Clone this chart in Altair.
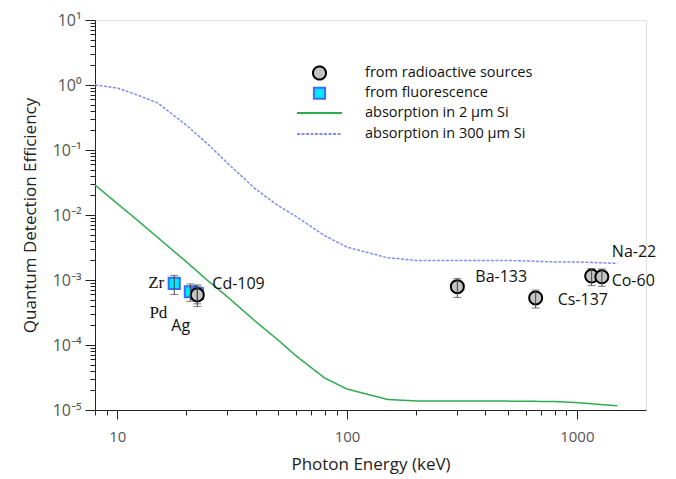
import altair as alt
import pandas as pd

# ---------------- data ----------------
series_names = ["from radioactive sources", "from fluorescence",
                "absorption in 2 µm Si", "absorption in 300 µm Si"]

green_E = [8, 10, 12, 15, 20, 25, 30, 40, 50, 60, 80, 100, 150, 200, 300, 500, 800, 1000, 1500]
green_Q = [0.029, 0.015, 0.0088, 0.0045, 0.0019, 0.00095, 0.00056, 0.00023, 0.00012, 0.000068,
           0.000031, 0.000021, 0.0000145, 0.0000138, 0.0000137, 0.0000137, 0.0000135, 0.000013, 0.0000116]

blue_E = [8, 10, 12, 15, 20, 25, 30, 40, 50, 60, 80, 100, 150, 200, 300, 500, 800, 1000, 1500]
blue_Q = [1.0, 0.9, 0.72, 0.53, 0.24, 0.12, 0.064, 0.025, 0.014, 0.0095, 0.0048, 0.0032,
          0.0022, 0.002, 0.002, 0.002, 0.0019, 0.0019, 0.0018]

fluo_names = ["Zr", "Pd", "Ag"]
fluo_E = [17.7, 20.8, 22.3]
fluo_Q = [0.00089, 0.00066, 0.00062]
fluo_lo = [0.00060, 0.00047, 0.00043]
fluo_hi = [0.00118, 0.00087, 0.00084]

src_names = ["Cd-109", "Ba-133", "Cs-137", "Co-60", "Na-22"]
src_E = [22.3, 302, 662, 1160, 1285]
src_Q = [0.00059, 0.00079, 0.00053, 0.00115, 0.00112]
src_lo = [0.00039, 0.00054, 0.00037, 0.00082, 0.00080]
src_hi = [0.00080, 0.00105, 0.00070, 0.00150, 0.00148]

# ---------------- tables ----------------
lines = pd.concat([
    pd.DataFrame({"E": green_E, "Q": green_Q, "series": series_names[2]}),
    pd.DataFrame({"E": blue_E, "Q": blue_Q, "series": series_names[3]}),
])
points = pd.concat([
    pd.DataFrame({"E": fluo_E, "Q": fluo_Q, "lo": fluo_lo, "hi": fluo_hi,
                  "name": fluo_names, "series": series_names[1]}),
    pd.DataFrame({"E": src_E, "Q": src_Q, "lo": src_lo, "hi": src_hi,
                  "name": src_names, "series": series_names[0]}),
])

FONT = "Open Sans"
major_y = [1e-5, 1e-4, 1e-3, 1e-2, 1e-1, 1, 10]
y_ticks = []
for m in major_y[:-1]:
    for k in range(1, 10):
        y_ticks.append(round(m * k, 12))
y_ticks.append(10)
x_ticks = [8, 9] + [10 * k for k in range(1, 10)] + [100 * k for k in range(1, 10)] + [1000]

is_major_y = "abs(log(datum.value)/LN10 - round(log(datum.value)/LN10)) < 0.001"
is_major_x = "(datum.value==10 || datum.value==100 || datum.value==1000)"

xscale = alt.Scale(type="log", domain=[8, 2000], nice=False)
yscale = alt.Scale(type="log", domain=[1e-5, 10], nice=False)

xaxis = alt.Axis(values=x_ticks, title="Photon Energy (keV)", grid=False,
                 labelExpr=f"{is_major_x} ? format(datum.value, 'd') : ''",
                 labelOverlap=False, labelFont=FONT, labelFontSize=15, labelColor="#555",
                 titleFont=FONT, titleFontSize=17, titleFontWeight="normal", titleColor="#222",
                 domainColor="#222", tickColor="#222",
                 tickSize={"condition": {"test": is_major_x, "value": 9}, "value": 5},
                 labelPadding=10, titlePadding=12)
yaxis = alt.Axis(values=y_ticks, title="Quantum Detection Efficiency", grid=False,
                 labelExpr=f"{is_major_y} ? '10' + ['⁻⁵','⁻⁴','⁻³','⁻²','⁻¹','⁰','¹'][round(log(datum.value)/LN10)+5] : ''",
                 labelOverlap=False, labelFont=FONT, labelFontSize=16, labelColor="#555",
                 titleFont=FONT, titleFontSize=17, titleFontWeight="normal", titleColor="#222",
                 domainColor="#222", tickColor="#222",
                 tickSize={"condition": {"test": is_major_y, "value": 10}, "value": 5},
                 labelPadding=4, titlePadding=13)

legend = alt.Legend(
    title=None, orient="none", legendX=216.5, legendY=45,
    labelFont=FONT, labelFontSize=14.5, labelColor="#111", labelLimit=400,
    symbolStrokeWidth=2, rowPadding=-1, labelOffset=37.5)

# horizontal line symbol; the move-to points give it the same height as the circle
LINE_SYM = "M0,-1M0,1M-3.45,0H3.45"
dom = series_names
stroke_enc = alt.Stroke("series:N", scale=alt.Scale(domain=dom,
                        range=["black", "#3b6cf6", "#2faa4f", "#7f8ff0"]), legend=legend)
fill_enc = alt.Fill("series:N", scale=alt.Scale(domain=dom,
                    range=["#c4c4c4", "#00e8ff", "white", "white"]), legend=legend)
shape_enc = alt.Shape("series:N", scale=alt.Scale(domain=dom,
                      range=["circle", "square", LINE_SYM, LINE_SYM]), legend=legend)
size_enc = alt.Size("series:N", scale=alt.Scale(type="ordinal", domain=dom,
                    range=[170, 125, 170, 170]), legend=legend)
dash_enc = alt.StrokeDash("series:N", scale=alt.Scale(domain=dom,
                          range=[[1, 0], [1, 0], [1, 0], [3, 1.5]]), legend=legend)

X = alt.X("E:Q", scale=xscale, axis=xaxis)
Y = alt.Y("Q:Q", scale=yscale, axis=yaxis)

line_layer = alt.Chart(lines).mark_line(strokeWidth=1.5).encode(
    x=X, y=Y, stroke=stroke_enc, strokeDash=dash_enc, detail="series:N")

point_layer = alt.Chart(points).mark_point(filled=False, strokeWidth=2, opacity=1).encode(
    x=X, y=Y, stroke=stroke_enc, fill=fill_enc, shape=shape_enc, size=size_enc)

err_rule = alt.Chart(points).mark_rule(color="#444", strokeWidth=1).encode(
    x=alt.X("E:Q", scale=xscale, axis=xaxis),
    y=alt.Y("lo:Q", scale=yscale, axis=yaxis), y2="hi:Q")
err_lo = alt.Chart(points).mark_tick(color="#444", thickness=1, size=8, orient="horizontal").encode(
    x=alt.X("E:Q", scale=xscale, axis=xaxis), y=alt.Y("lo:Q", scale=yscale, axis=yaxis))
err_hi = alt.Chart(points).mark_tick(color="#444", thickness=1, size=8, orient="horizontal").encode(
    x=alt.X("E:Q", scale=xscale, axis=xaxis), y=alt.Y("hi:Q", scale=yscale, axis=yaxis))

label_style = {
    "Zr": dict(dx=-10, dy=0, align="right", font="Liberation Serif", fontSize=17),
    "Pd": dict(dx=-23, dy=21, align="right", font="Liberation Serif", fontSize=17),
    "Ag": dict(dx=-26, dy=33, align="left", font=FONT, fontSize=16),
    "Cd-109": dict(dx=15, dy=-11, align="left", font=FONT, fontSize=16),
    "Ba-133": dict(dx=18, dy=-10, align="left", font=FONT, fontSize=16),
    "Cs-137": dict(dx=22, dy=2, align="left", font=FONT, fontSize=16),
    "Co-60": dict(dx=20, dy=5, align="left", font=FONT, fontSize=16),
    "Na-22": dict(dx=10, dy=-25, align="left", font=FONT, fontSize=16),
}
text_layers = []
for nm, st in label_style.items():
    text_layers.append(
        alt.Chart(points).transform_filter(alt.datum.name == nm).mark_text(
            baseline="middle", color="#111", **st).encode(
            x=alt.X("E:Q", scale=xscale, axis=xaxis),
            y=alt.Y("Q:Q", scale=yscale, axis=yaxis), text="name:N"))

chart = alt.layer(line_layer, point_layer, err_rule, err_lo, err_hi, *text_layers).properties(
    width=551, height=390,
    autosize=alt.AutoSizeParams(type="none"),
    padding={"left": 95, "top": 20, "right": 30, "bottom": 69},
).configure_view(stroke=None).configure(background="white")

chart.save("out.html", embed_options={"renderer": "svg", "actions": False})
